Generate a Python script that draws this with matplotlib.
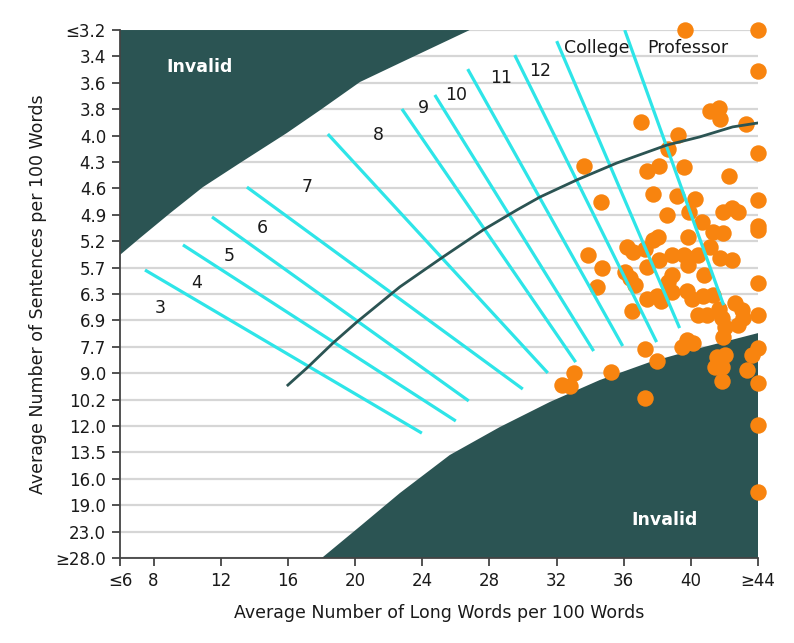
import matplotlib
matplotlib.use("Agg")
import matplotlib.pyplot as plt
import numpy as np

# ---- axis categories ----
y_labels = ['≤3.2', '3.4', '3.6', '3.8', '4.0', '4.3', '4.6', '4.9', '5.2', '5.7', '6.3',
            '6.9', '7.7', '9.0', '10.2', '12.0', '13.5', '16.0', '19.0', '23.0', '≥28.0']
x_ticks = [6, 8, 12, 16, 20, 24, 28, 32, 36, 40, 44]
x_ticklabels = ['≤6', '8', '12', '16', '20', '24', '28', '32', '36', '40', '≥44']

# y values are positions on the sentence scale (0 = ≤3.2 ... 20 = ≥28.0)
# ---- invalid regions ----
upper_invalid_x = [6, 26.83, 22.67, 20.29, 17.93, 15.94, 13.14, 10.94, 9.0, 7.19, 6]
upper_invalid_y = [0, 0, 1.25, 1.97, 3.03, 3.90, 5.04, 5.95, 6.93, 7.88, 8.52]
lower_invalid_x = [18.02, 20.3, 22.67, 25.64, 28.62, 31.6, 34.57, 37.55, 40.52, 44, 44]
lower_invalid_y = [20, 18.8, 17.54, 16.10, 15.04, 14.09, 13.26, 12.58, 12.05, 11.48, 20]

# ---- median curve ----
curve_x = [16.0, 17.19, 18.68, 20.11, 22.67, 25.23, 27.61, 29.63, 31.0, 33.2, 35.58, 38.56, 40.52, 42.49, 44]
curve_y = [13.45, 12.77, 11.86, 11.06, 9.73, 8.60, 7.58, 6.82, 6.33, 5.68, 5.04, 4.36, 4.05, 3.67, 3.52]

# ---- grade boundary lines (start x, start y, end x, end y) ----
grade_x0 = [7.49, 9.75, 11.48, 13.56, 18.38, 22.79, 24.75, 26.71, 29.51, 32.01, 36.06]
grade_y0 = [9.09, 8.14, 7.08, 5.95, 3.94, 2.99, 2.46, 1.48, 0.95, 0.42, 0.0]
grade_x1 = [23.98, 26.0, 26.77, 29.99, 31.48, 33.14, 34.21, 35.94, 37.96, 39.33, 41.95]
grade_y1 = [15.27, 14.81, 14.05, 13.60, 12.99, 12.58, 12.16, 11.97, 11.82, 11.29, 10.42]

# ---- grade labels ----
grade_names = ['3', '4', '5', '6', '7', '8', '9', '10', '11', '12', 'College', 'Professor']
grade_lx = [8.38, 10.58, 12.49, 14.45, 17.13, 21.36, 24.10, 26.0, 28.67, 31.05, 34.38, 39.79]
grade_ly = [10.53, 9.58, 8.56, 7.5, 5.95, 3.98, 2.95, 2.46, 1.82, 1.55, 0.68, 0.68]

# ---- documents (scatter) ----
pts_x = [39.63, 44, 44, 41.12, 41.65, 41.71, 37.01, 43.26, 39.21, 38.62, 44, 33.62, 37.37, 38.08,
         39.57, 42.25, 34.63, 37.73, 39.15, 40.23, 38.56, 39.87, 40.64, 41.89, 42.43, 42.79, 44,
         44, 44, 41.30, 41.89, 39.81, 37.73, 38.02, 36.18, 36.54, 37.25, 38.86, 39.57, 39.81,
         39.81, 40.40, 41.12, 41.71, 42.43, 33.86, 34.69, 34.39, 36.06, 36.36, 36.65, 37.37,
         38.08, 38.86, 38.62, 40.76, 44, 37.37, 37.96, 38.20, 38.86, 39.75, 40.05, 40.70, 41.30,
         36.48, 40.40, 40.94, 41.65, 41.83, 42.01, 42.61, 43.02, 43.08, 42.79, 44, 41.89, 39.75,
         40.11, 39.45, 44, 43.62, 37.25, 37.96, 33.02, 35.23, 32.31, 32.79, 37.25, 41.54, 42.01,
         41.42, 41.83, 41.83, 43.32, 44, 44, 44]
pts_y = [0.0, 0.0, 1.55, 3.07, 2.95, 3.37, 3.48, 3.56, 3.98, 4.51, 4.66, 5.15, 5.34, 5.15,
         5.19, 5.53, 6.52, 6.21, 6.29, 6.40, 7.01, 6.89, 7.27, 6.89, 6.74, 6.89, 6.44,
         7.42, 7.58, 7.65, 7.69, 7.84, 7.95, 7.84, 8.22, 8.41, 8.30, 8.52, 8.52, 8.64,
         8.90, 8.52, 8.22, 8.64, 8.71, 8.52, 9.02, 9.73, 9.17, 9.39, 9.66, 8.98,
         8.71, 9.28, 9.55, 9.28, 9.58, 10.19, 10.08, 10.27, 9.92, 9.89, 10.19, 10.08, 10.04,
         10.64, 10.80, 10.80, 10.57, 10.91, 11.25, 10.34, 10.61, 10.91, 11.17, 10.80, 11.63, 11.74,
         11.86, 12.01, 12.05, 12.31, 12.08, 12.54, 12.99, 12.95, 13.45, 13.48, 13.94, 12.39, 12.31,
         12.77, 12.77, 13.30, 12.88, 13.37, 14.96, 17.5]

DARK = '#2B5453'
CYAN = '#2EE5E8'
ORANGE = '#F8840F'
TXT = '#1a1a1a'

plt.rcParams['font.family'] = ['DejaVu Sans']
fig = plt.figure(figsize=(7.94, 6.43), dpi=100)
ax = fig.add_axes([0.1511, 0.1322, 0.8036, 0.8211])

ax.set_xlim(6, 44)
ax.set_ylim(20, 0)

for i in range(len(y_labels)):
    ax.axhline(i, color='#d6d6d6', lw=1.6, zorder=1)

ax.fill(upper_invalid_x, upper_invalid_y, color=DARK, lw=0, zorder=2)
ax.fill(lower_invalid_x, lower_invalid_y, color=DARK, lw=0, zorder=2)

ax.scatter(pts_x, pts_y, s=140, color=ORANGE, lw=0, zorder=3, clip_on=False)

for x0, y0, x1, y1 in zip(grade_x0, grade_y0, grade_x1, grade_y1):
    ax.plot([x0, x1], [y0, y1], color=CYAN, lw=2.3, solid_capstyle='butt', zorder=4)

ax.plot(curve_x, curve_y, color=DARK, lw=2.0, zorder=5)

for name, lx, ly in zip(grade_names, grade_lx, grade_ly):
    ax.text(lx, ly, name, ha='center', va='center', fontsize=12.5, color=TXT, zorder=6)

ax.text(10.76, 1.40, 'Invalid', ha='center', va='center', fontsize=12.5, color='white',
        fontweight='semibold', zorder=6)
ax.text(38.44, 18.56, 'Invalid', ha='center', va='center', fontsize=12.5, color='white',
        fontweight='semibold', zorder=6)

ax.set_yticks(range(len(y_labels)))
ax.set_yticklabels(y_labels)
ax.set_xticks(x_ticks)
ax.set_xticklabels(x_ticklabels)

for s in ['top', 'right']:
    ax.spines[s].set_visible(False)
for s in ['left', 'bottom']:
    ax.spines[s].set_color('#444444')
    ax.spines[s].set_linewidth(1.3)
    ax.spines[s].set_zorder(7)
ax.tick_params(axis='both', direction='out', length=6, width=1.3, color='#444444',
               labelsize=12, labelcolor=TXT, pad=4)

ax.set_xlabel('Average Number of Long Words per 100 Words', fontsize=12.5, color=TXT, labelpad=10)
ax.set_ylabel('Average Number of Sentences per 100 Words', fontsize=12.5, color=TXT, labelpad=6)

fig.savefig('out.png', dpi=100)
